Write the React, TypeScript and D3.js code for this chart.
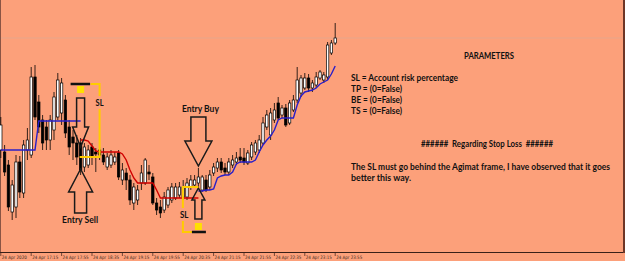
import React from "react";
import * as d3 from "d3";

// M5 candles, 24 Apr 2020 16:35 .. 23:55 (index 0..88)
const opens = [1.0750,1.0748,1.0735,1.0688,1.0693,1.0738,1.0707,1.0750,1.0745,1.0823,1.0798,1.0780,1.0773,1.0760,1.0770,1.0783,1.0787,1.0800,1.0773,1.0763,1.0757,1.0757,1.0733,1.0735,1.0753,1.0748,1.0750,1.0745,1.0733,1.0735,1.0738,1.0747,1.0720,1.0727,1.0720,1.0697,1.0700,1.0717,1.0717,1.0728,1.0723,1.0697,1.0693,1.0690,1.0695,1.0700,1.0702,1.0705,1.0703,1.0703,1.0713,1.0715,1.0717,1.0710,1.0720,1.0713,1.0727,1.0732,1.0738,1.0732,1.0728,1.0735,1.0738,1.0743,1.0742,1.0737,1.0743,1.0748,1.0750,1.0757,1.0773,1.0765,1.0780,1.0797,1.0785,1.0792,1.0777,1.0790,1.0800,1.0807,1.0812,1.0822,1.0812,1.0815,1.0822,1.0820,1.0823,1.0847,1.0857];
const highs = [1.0783,1.0755,1.0740,1.0720,1.0745,1.0744,1.0760,1.0772,1.0833,1.0835,1.0805,1.0785,1.0780,1.0785,1.0808,1.0827,1.0822,1.0805,1.0780,1.0770,1.0765,1.0762,1.0757,1.0755,1.0757,1.0752,1.0753,1.0752,1.0747,1.0750,1.0748,1.0750,1.0737,1.0732,1.0725,1.0717,1.0715,1.0735,1.0742,1.0735,1.0727,1.0702,1.0700,1.0708,1.0713,1.0717,1.0717,1.0718,1.0720,1.0722,1.0725,1.0725,1.0732,1.0725,1.0725,1.0730,1.0737,1.0742,1.0742,1.0737,1.0742,1.0745,1.0748,1.0752,1.0752,1.0750,1.0758,1.0760,1.0765,1.0783,1.0790,1.0792,1.0797,1.0803,1.0795,1.0796,1.0800,1.0805,1.0833,1.0825,1.0827,1.0826,1.0820,1.0828,1.0830,1.0828,1.0858,1.0860,1.0877];
const lows = [1.0742,1.0724,1.0689,1.0680,1.0682,1.0702,1.0702,1.0740,1.0742,1.0780,1.0767,1.0750,1.0750,1.0750,1.0760,1.0780,1.0775,1.0762,1.0745,1.0740,1.0735,1.0725,1.0728,1.0732,1.0735,1.0728,1.0740,1.0735,1.0730,1.0732,1.0735,1.0720,1.0715,1.0710,1.0695,1.0690,1.0695,1.0710,1.0715,1.0720,1.0695,1.0685,1.0682,1.0687,1.0692,1.0697,1.0700,1.0702,1.0700,1.0700,1.0710,1.0712,1.0713,1.0708,1.0708,1.0710,1.0724,1.0728,1.0727,1.0725,1.0725,1.0732,1.0735,1.0737,1.0735,1.0735,1.0740,1.0745,1.0747,1.0755,1.0770,1.0760,1.0777,1.0780,1.0782,1.0773,1.0775,1.0788,1.0797,1.0803,1.0810,1.0808,1.0808,1.0812,1.0820,1.0817,1.0820,1.0845,1.0855];
const closes = [1.0775,1.0728,1.0693,1.0715,1.0738,1.0708,1.0755,1.0760,1.0823,1.0783,1.0773,1.0757,1.0760,1.0780,1.0803,1.0820,1.0817,1.0767,1.0753,1.0757,1.0743,1.0730,1.0753,1.0750,1.0743,1.0746,1.0745,1.0738,1.0743,1.0745,1.0743,1.0723,1.0730,1.0720,1.0700,1.0713,1.0710,1.0727,1.0740,1.0726,1.0697,1.0690,1.0687,1.0703,1.0710,1.0713,1.0713,1.0713,1.0713,1.0717,1.0720,1.0720,1.0723,1.0723,1.0710,1.0725,1.0733,1.0738,1.0730,1.0728,1.0738,1.0740,1.0742,1.0740,1.0738,1.0747,1.0755,1.0757,1.0760,1.0777,1.0785,1.0787,1.0790,1.0782,1.0792,1.0775,1.0797,1.0800,1.0820,1.0822,1.0822,1.0812,1.0817,1.0823,1.0828,1.0825,1.0855,1.0857,1.0862];

// Agimat indicator lines (null = not drawn)
const N = null;
const blueLine = [1.0750,1.0750,1.0750,1.0750,1.0750,1.0750,1.0750,1.0750,1.0750,1.0750,1.0779,1.0779,1.0779,1.0779,1.0779,1.0779,1.0779,1.0779,1.0779,1.0779,1.0779,1.0779,N,N,N,N,N,N,N,N,N,N,N,N,N,N,N,N,N,N,N,N,N,N,N,N,N,N,N,N,N,N,1.0709,1.0709,1.0710,1.0710,1.0711,1.0722,1.0724,1.0725,1.0725,1.0728,1.0736,1.0738,1.0738,1.0738,1.0738,1.0740,1.0748,1.0755,1.0760,1.0764,1.0770,1.0780,1.0782,1.0782,1.0782,1.0782,1.0795,1.0804,1.0808,1.0809,1.0810,1.0812,1.0816,1.0818,1.0820,1.0826,1.0834];
const redLine = [N,N,N,N,N,N,N,N,N,N,N,N,N,N,N,N,N,N,N,N,N,1.0760,1.0760,1.0759,1.0754,1.0749,1.0748,1.0748,1.0748,1.0748,1.0748,1.0748,1.0746,1.0740,1.0730,1.0722,1.0717,1.0717,1.0717,1.0717,1.0717,1.0710,1.0702,1.0702,1.0702,1.0702,1.0702,1.0702,1.0702,1.0702,1.0702,1.0702,1.0702,N,N,N,N,N,N,N,N,N,N,N,N,N,N,N,N,N,N,N,N,N,N,N,N,N,N,N,N,N,N,N,N,N,N,N,N];

const timeLabels = ["24 Apr 2020","24 Apr 17:15","24 Apr 17:55","24 Apr 18:35","24 Apr 19:15","24 Apr 19:55","24 Apr 20:35","24 Apr 21:15","24 Apr 21:55","24 Apr 22:35","24 Apr 23:15","24 Apr 23:55"];
const labelBars = [0,8,16,24,32,40,48,56,64,72,80,88];

// trades: entry bar, entry price, stop-loss price, arrow tips
const sellTrade = { bar: 21, entry: 1.0743, sl: 1.0816, downTip: 1.0753, upTip: 1.0731 };
const buyTrade = { bar: 52, entry: 1.0713, sl: 1.0668, downTip: 1.0734, upTip: 1.0712 };

const paramLines = ["SL = Account risk percentage", "TP = (0=False)", "BE = (0=False)", "TS = (0=False)"];

const BG = "#FCA07A";
const YEL = "#FFCC00";
const FONT = "Lato, 'Open Sans', sans-serif";

function downArrow(cx: number, tip: number, hw: number, headH: number, sw: number, shaftH: number) {
  const b = tip - headH;
  const t = b - shaftH;
  return `M${cx - sw},${t}L${cx + sw},${t}L${cx + sw},${b}L${cx + hw},${b}L${cx},${tip}L${cx - hw},${b}L${cx - sw},${b}Z`;
}
function upArrow(cx: number, tip: number, hw: number, headH: number, sw: number, shaftH: number) {
  const b = tip + headH;
  const t = b + shaftH;
  return `M${cx - sw},${t}L${cx + sw},${t}L${cx + sw},${b}L${cx + hw},${b}L${cx},${tip}L${cx - hw},${b}L${cx - sw},${b}Z`;
}

export default function App() {
  const x = d3.scaleLinear().domain([0, 88]).range([0.8, 335.2]);
  const y = d3.scaleLinear().domain([1.064, 1.09]).range([260, 0]);

  const mkLine = (arr: (number | null)[]) =>
    d3.line<number | null>()
      .defined((d) => d !== null)
      .x((_, i) => x(i))
      .y((d) => y(d as number))(arr) || "";

  const sx = x(sellTrade.bar);
  const bx = x(buyTrade.bar);
  const sSL = y(sellTrade.sl);
  const sEn = y(sellTrade.entry);
  const bSL = y(buyTrade.sl);
  const bEn = y(buyTrade.entry);

  return (
    <svg width={625} height={261} style={{ position: "absolute", left: 0, top: 0, display: "block" }}>
      <rect x={0} y={0} width={625} height={261} fill={BG} />
      {/* bid line */}
      <line x1={0} x2={623} y1={y(closes[88])} y2={y(closes[88])} stroke="#e6a68b" strokeWidth={1} />
      {/* frame */}
      <line x1={0.5} x2={0.5} y1={0} y2={252} stroke="#8a5444" strokeWidth={1} />
      <line x1={0} x2={624} y1={252.5} y2={252.5} stroke="#3a2018" strokeWidth={1} />
      <rect x={623} y={0} width={2} height={253} fill="#6e3626" />
      {/* time axis */}
      {labelBars.map((b, i) => (
        <g key={i}>
          <line x1={x(b)} x2={x(b)} y1={253} y2={256} stroke="#3a2018" strokeWidth={0.7} />
          <text x={x(b) + 1} y={258.5} fontSize={4.6} fontFamily="'DejaVu Sans', sans-serif" fill="#3a2a22"
            textLength={i === 0 ? 25 : 26} lengthAdjust="spacingAndGlyphs">{timeLabels[i]}</text>
        </g>
      ))}
      {/* candles */}
      {opens.map((o, i) => {
        const c = closes[i];
        const bull = c >= o;
        const top = y(Math.max(o, c));
        const bot = y(Math.min(o, c));
        const cx = x(i);
        return (
          <g key={i}>
            <line x1={cx} x2={cx} y1={y(highs[i])} y2={y(lows[i])} stroke="#000" strokeWidth={0.8} />
            <rect x={cx - 1.2} y={top} width={2.4} height={Math.max(bot - top, 0.8)}
              fill={bull ? "#fff" : "#000"} stroke="#000" strokeWidth={0.7} />
          </g>
        );
      })}
      {/* Agimat lines */}
      <path d={mkLine(blueLine)} fill="none" stroke="#2a1fc8" strokeWidth={1.4} />
      <path d={mkLine(redLine)} fill="none" stroke="#d00000" strokeWidth={1.4} />

      {/* Sell trade annotation */}
      <line x1={sx - 10} x2={sx + 9.5} y1={sSL} y2={sSL} stroke="#111" strokeWidth={2.5} />
      <rect x={sx - 3.5} y={sSL + 2} width={7} height={7} fill="#FFE000" />
      <polyline points={`${sx + 10},${sSL} ${sx + 19},${sSL} ${sx + 19},${sSL + 12}`} fill="none" stroke={YEL} strokeWidth={2} />
      <polyline points={`${sx + 19},${sSL + 25} ${sx + 19},${sEn} ${sx - 1},${sEn}`} fill="none" stroke={YEL} strokeWidth={2} />
      <text x={sx + 15} y={sSL + 22} fontSize={9} fontWeight={700} fontFamily={FONT} fill="#111" textLength={8} lengthAdjust="spacingAndGlyphs">SL</text>
      <path d={downArrow(sx, y(sellTrade.downTip), 8, 20, 4, 29)} fill="none" stroke="#1a1a1a" strokeWidth={1.5} />
      <path d={upArrow(sx, y(sellTrade.upTip), 12, 23, 6, 21)} fill="none" stroke="#1a1a1a" strokeWidth={1.5} />
      <text x={sx - 18.5} y={223} fontSize={9} fontWeight={700} fontFamily={FONT} fill="#111" textLength={36} lengthAdjust="spacingAndGlyphs">Entry Sell</text>

      {/* Buy trade annotation */}
      <text x={bx - 16.5} y={112} fontSize={9} fontWeight={700} fontFamily={FONT} fill="#111" textLength={37} lengthAdjust="spacingAndGlyphs">Entry Buy</text>
      <path d={downArrow(bx, y(buyTrade.downTip), 13.5, 25, 7.5, 24)} fill="none" stroke="#1a1a1a" strokeWidth={1.5} />
      <path d={upArrow(bx, y(buyTrade.upTip), 6.5, 12, 3.5, 19)} fill="none" stroke="#1a1a1a" strokeWidth={1.5} />
      <polyline points={`${bx},${bEn} ${bx - 15.5},${bEn} ${bx - 15.5},${bSL - 24}`} fill="none" stroke={YEL} strokeWidth={2} />
      <polyline points={`${bx - 15.5},${bSL - 11} ${bx - 15.5},${bSL} ${bx - 6},${bSL}`} fill="none" stroke={YEL} strokeWidth={2} />
      <line x1={bx - 6.5} x2={bx + 7.5} y1={bSL} y2={bSL} stroke="#111" strokeWidth={2.5} />
      <rect x={bx - 3.5} y={bSL - 9} width={7} height={7} fill="#FFE000" />
      <text x={bx - 18.5} y={bSL - 14} fontSize={9} fontWeight={700} fontFamily={FONT} fill="#111" textLength={8.5} lengthAdjust="spacingAndGlyphs">SL</text>

      {/* Parameters text */}
      <text x={464} y={59} fontSize={8.5} fontWeight={700} fontFamily={FONT} fill="#111" textLength={50} lengthAdjust="spacingAndGlyphs">PARAMETERS</text>
      {paramLines.map((t, i) => (
        <text key={i} x={351} y={81 + i * 11} fontSize={8.5} fontWeight={700} fontFamily={FONT} fill="#111"
          textLength={i === 0 ? 107 : 51} lengthAdjust="spacingAndGlyphs">{t}</text>
      ))}
      <text x={421} y={147} fontSize={8.5} fontWeight={700} fontFamily={FONT} fill="#111" style={{ whiteSpace: "pre" }}
        textLength={132} lengthAdjust="spacingAndGlyphs">{"######  Regarding Stop Loss  ######"}</text>
      <text x={351} y={169.5} fontSize={8.5} fontWeight={700} fontFamily={FONT} fill="#111"
        textLength={259} lengthAdjust="spacingAndGlyphs">The SL must go behind the Agimat frame, I have observed that it goes</text>
      <text x={351} y={180.5} fontSize={8.5} fontWeight={700} fontFamily={FONT} fill="#111"
        textLength={60} lengthAdjust="spacingAndGlyphs">better this way.</text>
    </svg>
  );
}
